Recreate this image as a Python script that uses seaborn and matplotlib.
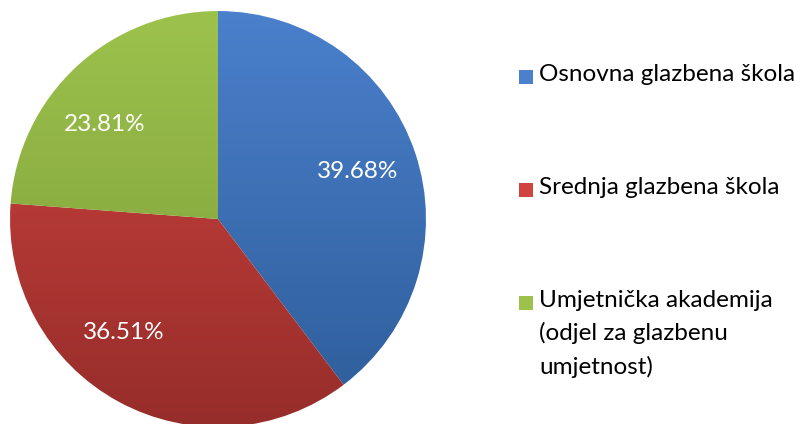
import numpy as np
import seaborn as sns
import matplotlib.pyplot as plt
from matplotlib.patches import Rectangle

categories = ['Osnovna glazbena škola', 'Srednja glazbena škola',
              'Umjetnička akademija\n(odjel za glazbenu\numjetnost)']
shares = [39.68, 36.51, 23.81]
# top / bottom colours of each slice gradient
tops = ['#4A80CC', '#D0443F', '#9DC24C']
bottoms = ['#2D5C98', '#962D2A', '#7A9A38']

sns.set_style('white')
plt.rcParams['font.family'] = ['Lato', 'DejaVu Sans']

W, H = 800, 424
fig = plt.figure(figsize=(W / 100, H / 100), dpi=100)
ax = fig.add_axes([0.0125, -0.007, 0.52, 0.981])

wedges, texts, autotexts = ax.pie(
    shares, startangle=90, counterclock=False, radius=1,
    autopct='%.2f%%', pctdistance=0.7,
    colors=tops, wedgeprops=dict(edgecolor='white', linewidth=0.6),
    textprops=dict(color='white', fontsize=17.5))

# vertical gradient inside every slice
for w, t, b in zip(wedges, tops, bottoms):
    cmap = sns.blend_palette([b, t], as_cmap=True)
    grad = np.linspace(0, 1, 256).reshape(-1, 1)
    im = ax.imshow(grad, cmap=cmap, extent=[-1, 1, -1, 1], origin='lower',
                   aspect='auto', zorder=w.get_zorder())
    im.set_clip_path(w)
    w.set_facecolor('none')

# Excel "best fit" label spots (radius 0.71, angle in degrees)
label_angles = [18.6, -129.8, 140.0]
for txt, a in zip(autotexts, label_angles):
    r = np.deg2rad(a)
    txt.set_position((0.71 * np.cos(r), 0.71 * np.sin(r)))
    txt.set_zorder(5)

ax.set_xlim(-1, 1)
ax.set_ylim(-1, 1)
ax.set_aspect('equal')
ax.axis('off')

# legend drawn by hand so the marker sits on the first line of a wrapped label
for i, (lab, c) in enumerate(zip(categories, tops)):
    yc = 77 + i * 113  # first-line centre, pixels from top
    fig.add_artist(Rectangle((519 / W, 1 - (yc + 7) / H), 14 / W, 14 / H,
                             transform=fig.transFigure, facecolor=c,
                             edgecolor='none'))
    fig.text(539 / W, 1 - (yc - 13) / H, lab, fontsize=17.5, va='top',
             ha='left', color='black', linespacing=1.62)

fig.savefig('out.png', dpi=100)
